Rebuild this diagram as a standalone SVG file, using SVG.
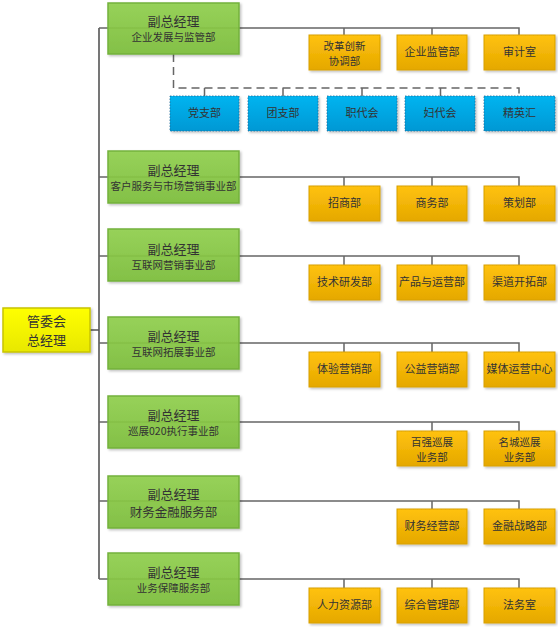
<svg xmlns="http://www.w3.org/2000/svg" width="558" height="627" viewBox="0 0 558 627">
<defs>
<linearGradient id="gG" x1="0" y1="0" x2="0" y2="1"><stop offset="0" stop-color="#92D050"/><stop offset="1" stop-color="#7DBE3C"/></linearGradient>
<linearGradient id="gO" x1="0" y1="0" x2="0" y2="1"><stop offset="0" stop-color="#FFC20E"/><stop offset="1" stop-color="#E5A800"/></linearGradient>
<linearGradient id="gB" x1="0" y1="0" x2="0" y2="1"><stop offset="0" stop-color="#00B4F0"/><stop offset="1" stop-color="#0098D4"/></linearGradient>
<linearGradient id="gY" x1="0" y1="0" x2="0" y2="1"><stop offset="0" stop-color="#FFFF00"/><stop offset="1" stop-color="#E8E800"/></linearGradient>
<filter id="sh" x="-10%" y="-10%" width="130%" height="140%"><feDropShadow dx="1.5" dy="1.5" stdDeviation="1" flood-color="#000" flood-opacity="0.25"/></filter>
</defs>
<style>
.ln{fill:none;stroke:#666;stroke-width:1.5}
.sp{fill:none;stroke:#555;stroke-width:1.6}
.ds{fill:none;stroke:#666;stroke-width:1.5;stroke-dasharray:8 5}
.g{fill:url(#gG);fill-opacity:0.93;stroke:#74B23C;stroke-width:1.5;filter:url(#sh)}
.o{fill:url(#gO);stroke:#D8A000;stroke-width:1;filter:url(#sh)}
.b{fill:url(#gB);stroke:#1A6C9A;stroke-width:0.8;stroke-dasharray:1.5 1.5;filter:url(#sh)}
.y{fill:url(#gY);stroke:#C8C400;stroke-width:1.5;filter:url(#sh)}
text{font-family:"Noto Sans CJK SC","Noto Sans",sans-serif;fill:#333;text-anchor:middle}
.t1{font-size:13px}
.t2{font-size:10.5px}
.t3{font-size:11px}
.t4{font-size:10.5px}
.t5{font-size:12.5px}
</style>
<g id="connectors">
<path class="sp" d="M90 330 H99 M99 28 V579"/>
<path class="ln" d="M99 28 H519 V35 M344 28 V35 M432 28 V35"/>
<path class="ln" d="M99 177 H519 V186 M344 177 V186 M432 177 V186"/>
<path class="ln" d="M99 256 H519 V265 M344 256 V265 M432 256 V265"/>
<path class="ln" d="M99 343 H519 V352 M344 343 V352 M432 343 V352"/>
<path class="ln" d="M99 422 H519 V431 M432 422 V431"/>
<path class="ln" d="M99 501 H519 V509 M432 501 V509"/>
<path class="ln" d="M99 579 H519 V588 M344 579 V588 M432 579 V588"/>
<path class="ds" d="M173.5 54 V88 H519 V96 M204.5 88 V96 M283 88 V96 M362 88 V96 M440.5 88 V96"/>
</g>
<g id="root"><rect class="y" x="3" y="308" width="87" height="44"/><text class="t1" x="46.5" y="326">管委会</text><text class="t1" x="46.5" y="345">总经理</text></g>
<g id="vp1"><rect class="g" x="108" y="3" width="131" height="51"/><text class="t1" x="173.5" y="26">副总经理</text><text class="t2" x="173.5" y="41">企业发展与监管部</text></g>
<g id="vp2"><rect class="g" x="108" y="151" width="131" height="52"/><text class="t1" x="173.5" y="175">副总经理</text><text class="t2" x="173.5" y="190">客户服务与市场营销事业部</text></g>
<g id="vp3"><rect class="g" x="108" y="229" width="131" height="52"/><text class="t1" x="173.5" y="254">副总经理</text><text class="t2" x="173.5" y="269">互联网营销事业部</text></g>
<g id="vp4"><rect class="g" x="108" y="317" width="131" height="52"/><text class="t1" x="173.5" y="341">副总经理</text><text class="t2" x="173.5" y="356">互联网拓展事业部</text></g>
<g id="vp5"><rect class="g" x="108" y="396" width="131" height="52"/><text class="t1" x="173.5" y="420">副总经理</text><text class="t2" x="173.5" y="435">巡展020执行事业部</text></g>
<g id="vp6"><rect class="g" x="108" y="476" width="131" height="52"/><text class="t1" x="173.5" y="499">副总经理</text><text class="t5" x="173.5" y="517">财务金融服务部</text></g>
<g id="vp7"><rect class="g" x="108" y="553" width="131" height="52"/><text class="t1" x="173.5" y="577">副总经理</text><text class="t2" x="173.5" y="592">业务保障服务部</text></g>
<g id="d11"><rect class="o" x="309" y="35" width="71" height="35"/><text class="t4" x="344.5" y="50">改革创新</text><text class="t4" x="344.5" y="65">协调部</text></g>
<g id="d12"><rect class="o" x="397" y="35" width="70" height="35"/><text class="t3" x="432" y="56">企业监管部</text></g>
<g id="d13"><rect class="o" x="484" y="35" width="71" height="35"/><text class="t3" x="519.5" y="56">审计室</text></g>
<g id="b1"><rect class="b" x="170" y="96" width="69" height="35"/><text class="t3" x="204.5" y="117">党支部</text></g>
<g id="b2"><rect class="b" x="248" y="96" width="70" height="35"/><text class="t3" x="283" y="117">团支部</text></g>
<g id="b3"><rect class="b" x="327" y="96" width="70" height="35"/><text class="t3" x="362" y="117">职代会</text></g>
<g id="b4"><rect class="b" x="405" y="96" width="70" height="35"/><text class="t3" x="440" y="117">妇代会</text></g>
<g id="b5"><rect class="b" x="484" y="96" width="71" height="35"/><text class="t3" x="519.5" y="117">精英汇</text></g>
<g id="d21"><rect class="o" x="309" y="186" width="71" height="35"/><text class="t3" x="344.5" y="207">招商部</text></g>
<g id="d22"><rect class="o" x="397" y="186" width="70" height="35"/><text class="t3" x="432" y="207">商务部</text></g>
<g id="d23"><rect class="o" x="484" y="186" width="71" height="35"/><text class="t3" x="519.5" y="207">策划部</text></g>
<g id="d31"><rect class="o" x="309" y="265" width="71" height="35"/><text class="t3" x="344.5" y="286">技术研发部</text></g>
<g id="d32"><rect class="o" x="397" y="265" width="70" height="35"/><text class="t3" x="432" y="286">产品与运营部</text></g>
<g id="d33"><rect class="o" x="484" y="265" width="71" height="35"/><text class="t3" x="519.5" y="286">渠道开拓部</text></g>
<g id="d41"><rect class="o" x="309" y="352" width="71" height="35"/><text class="t3" x="344.5" y="373">体验营销部</text></g>
<g id="d42"><rect class="o" x="397" y="352" width="70" height="35"/><text class="t3" x="432" y="373">公益营销部</text></g>
<g id="d43"><rect class="o" x="484" y="352" width="71" height="35"/><text class="t3" x="519.5" y="373">媒体运营中心</text></g>
<g id="d52"><rect class="o" x="397" y="431" width="70" height="35"/><text class="t4" x="432" y="446">百强巡展</text><text class="t4" x="432" y="461">业务部</text></g>
<g id="d53"><rect class="o" x="484" y="431" width="71" height="35"/><text class="t4" x="519.5" y="446">名城巡展</text><text class="t4" x="519.5" y="461">业务部</text></g>
<g id="d62"><rect class="o" x="397" y="509" width="70" height="35"/><text class="t3" x="432" y="530">财务经营部</text></g>
<g id="d63"><rect class="o" x="484" y="509" width="71" height="35"/><text class="t3" x="519.5" y="530">金融战略部</text></g>
<g id="d71"><rect class="o" x="309" y="588" width="71" height="35"/><text class="t3" x="344.5" y="609">人力资源部</text></g>
<g id="d72"><rect class="o" x="397" y="588" width="70" height="35"/><text class="t3" x="432" y="609">综合管理部</text></g>
<g id="d73"><rect class="o" x="484" y="588" width="71" height="35"/><text class="t3" x="519.5" y="609">法务室</text></g>
</svg>
